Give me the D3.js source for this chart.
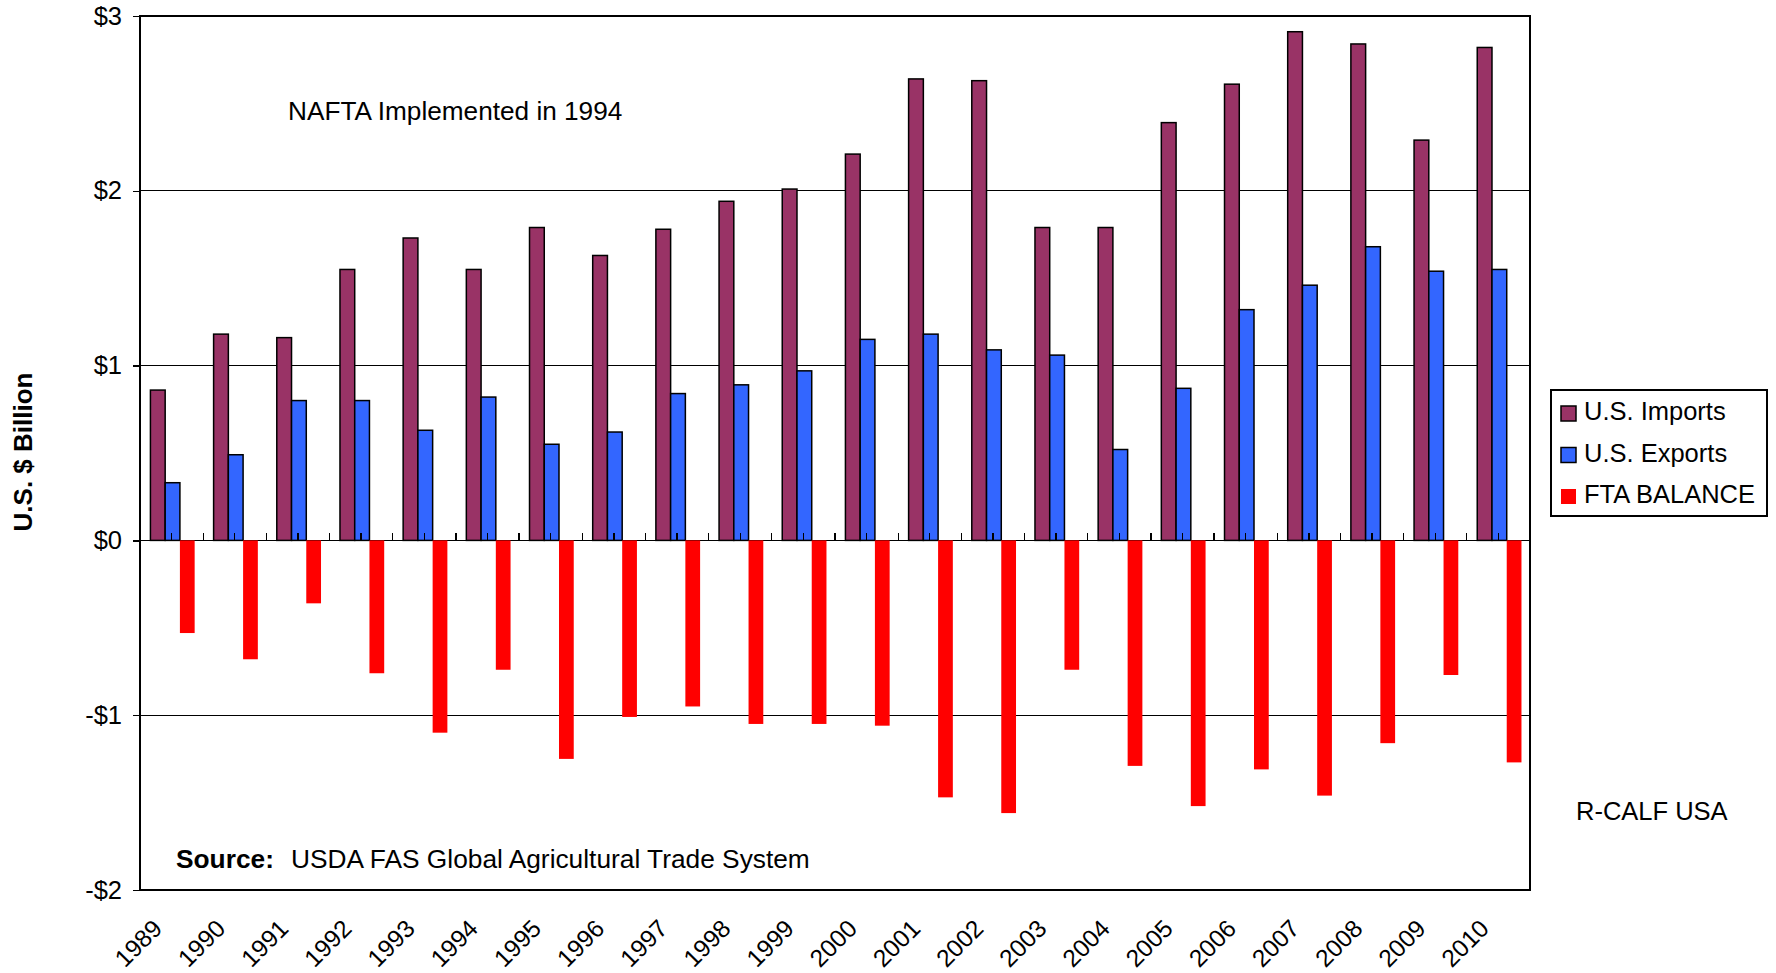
<!DOCTYPE html>
<html lang="en">
<head>
    <meta charset="UTF-8">
    <title>U.S. Trade Chart</title>
    <style>
        body {
            margin: 0;
            padding: 0;
            background: #fff;
            overflow: hidden;
        }
        text {
            font-family: 'Liberation Sans', Arial, sans-serif;
            fill: #000;
        }
        .axis text {
            font-size: 25.5px;
        }
        .axis text.year {
            font-size: 24.5px;
        }
        .axis path {
            display: none;
        }
        .axis line, .grid line, .tick-x {
            stroke: #000;
            stroke-width: 1.3px;
        }
    </style>
</head>
<body>
    <svg id="chart"></svg>

    <script src="https://d3js.org/d3.v7.min.js"></script>
    <script>
        // data, in U.S. $ billion
        const years = ["1989", "1990", "1991", "1992", "1993", "1994", "1995", "1996", "1997", "1998", "1999",
                       "2000", "2001", "2002", "2003", "2004", "2005", "2006", "2007", "2008", "2009", "2010"];
        const imports = [0.86, 1.18, 1.16, 1.55, 1.73, 1.55, 1.79, 1.63, 1.78, 1.94, 2.01,
                         2.21, 2.64, 2.63, 1.79, 1.79, 2.39, 2.61, 2.91, 2.84, 2.29, 2.82];
        const exports = [0.33, 0.49, 0.80, 0.80, 0.63, 0.82, 0.55, 0.62, 0.84, 0.89, 0.97,
                         1.15, 1.18, 1.09, 1.06, 0.52, 0.87, 1.32, 1.46, 1.68, 1.54, 1.55];
        const balance = [-0.53, -0.68, -0.36, -0.76, -1.10, -0.74, -1.25, -1.01, -0.95, -1.05, -1.05,
                         -1.06, -1.47, -1.56, -0.74, -1.29, -1.52, -1.31, -1.46, -1.16, -0.77, -1.27];
        const seriesNames = ["U.S. Imports", "U.S. Exports", "FTA BALANCE"];
        const seriesColors = ["#993366", "#3366ff", "#ff0000"];
        const yTicks = [-2, -1, 0, 1, 2, 3];
        const yTickLabels = ["-$2", "-$1", "$0", "$1", "$2", "$3"];

        const W = 1776, H = 973;
        const margin = {top: 16, right: 246, bottom: 83, left: 140};
        const plotW = W - margin.left - margin.right;
        const plotH = H - margin.top - margin.bottom;

        const svg = d3.select("#chart")
            .attr("width", W)
            .attr("height", H);

        const g = svg.append("g")
            .attr("transform", `translate(${margin.left},${margin.top})`);

        const y = d3.scaleLinear().domain([-2, 3]).range([plotH, 0]);

        // category slots (for ticks/labels) and bar groups inside them
        const xc = d3.scaleLinear().domain([0, years.length]).range([0, plotW]);
        const x0 = d3.scaleBand().domain(years).range([0, plotW])
            .paddingInner(0.3).paddingOuter(0.15).align(0.55);
        const x1 = d3.scaleBand().domain(seriesNames).range([0, x0.bandwidth()]);

        // horizontal gridlines
        g.append("g")
            .attr("class", "grid")
            .selectAll("line")
            .data(yTicks)
          .enter().append("line")
            .attr("x1", 0)
            .attr("x2", plotW)
            .attr("y1", d => y(d))
            .attr("y2", d => y(d))
            .attr("shape-rendering", "crispEdges");

        // bars
        const rows = years.map((yr, i) => ({
            year: yr,
            values: [imports[i], exports[i], balance[i]]
        }));

        const groups = g.selectAll(".year-group")
            .data(rows)
          .enter().append("g")
            .attr("class", "year-group")
            .attr("transform", d => `translate(${x0(d.year)},0)`);

        groups.selectAll("rect")
            .data(d => d.values.map((v, k) => ({name: seriesNames[k], k: k, v: v})))
          .enter().append("rect")
            .attr("x", d => x1(d.name))
            .attr("width", x1.bandwidth())
            .attr("y", d => y(Math.max(0, d.v)))
            .attr("height", d => Math.abs(y(d.v) - y(0)))
            .attr("fill", d => seriesColors[d.k])
            .attr("stroke", d => d.k < 2 ? "#000" : "none")
            .attr("stroke-width", 1.5);

        // small ticks on the zero line, at slot edges and centres
        const tickPos = d3.range(0, years.length * 2 + 1).map(i => i / 2);
        g.append("g")
            .selectAll("line")
            .data(tickPos)
          .enter().append("line")
            .attr("class", "tick-x")
            .attr("x1", d => xc(d))
            .attr("x2", d => xc(d))
            .attr("y1", y(0))
            .attr("y2", y(0) - 7)
            .attr("shape-rendering", "crispEdges");

        // frame
        g.append("rect")
            .attr("width", plotW)
            .attr("height", plotH)
            .attr("fill", "none")
            .attr("stroke", "#000")
            .attr("stroke-width", 1.3)
            .attr("shape-rendering", "crispEdges");

        // y axis
        g.append("g")
            .attr("class", "axis")
            .call(d3.axisLeft(y)
                .tickValues(yTicks)
                .tickFormat((d, i) => yTickLabels[i])
                .tickSize(7)
                .tickPadding(11))
            .selectAll("line").attr("shape-rendering", "crispEdges");

        // year labels, rotated
        g.append("g")
            .attr("class", "axis")
            .selectAll("text")
            .data(years)
          .enter().append("text")
            .attr("class", "year")
            .attr("text-anchor", "end")
            .attr("transform", (d, i) => `translate(${xc(i + 0.5) - 8},${plotH + 40}) rotate(-45)`)
            .text(d => d);

        // y axis title
        svg.append("text")
            .attr("transform", `translate(32,${margin.top + plotH / 2 - 1}) rotate(-90)`)
            .attr("text-anchor", "middle")
            .style("font-size", "26px")
            .style("font-weight", "bold")
            .text("U.S. $ Billion");

        // annotations
        svg.append("text")
            .attr("x", 288)
            .attr("y", 120)
            .style("font-size", "26.2px")
            .text("NAFTA Implemented in 1994");

        const src = svg.append("text")
            .attr("x", 176)
            .attr("y", 868)
            .style("font-size", "26.3px");
        src.append("tspan").style("font-weight", "bold").text("Source:");
        src.append("tspan").attr("dx", 17).text("USDA FAS Global Agricultural Trade System");

        svg.append("text")
            .attr("x", 1576)
            .attr("y", 820)
            .style("font-size", "25.5px")
            .text("R-CALF USA");

        // legend
        const legend = svg.append("g")
            .attr("transform", "translate(1551,390)");

        legend.append("rect")
            .attr("width", 216)
            .attr("height", 126)
            .attr("fill", "#fff")
            .attr("stroke", "#000")
            .attr("stroke-width", 1.3)
            .attr("shape-rendering", "crispEdges");

        const items = legend.selectAll(".item")
            .data(seriesNames)
          .enter().append("g")
            .attr("class", "item")
            .attr("transform", (d, i) => `translate(0,${30 + i * 41.5})`);

        items.append("rect")
            .attr("x", 10)
            .attr("y", -14)
            .attr("width", 15)
            .attr("height", 15)
            .attr("fill", (d, i) => seriesColors[i])
            .attr("stroke", (d, i) => i < 2 ? "#000" : "none")
            .attr("stroke-width", 1.5);

        items.append("text")
            .attr("x", 33)
            .style("font-size", "25.5px")
            .text(d => d);
    </script>
</body>
</html>
